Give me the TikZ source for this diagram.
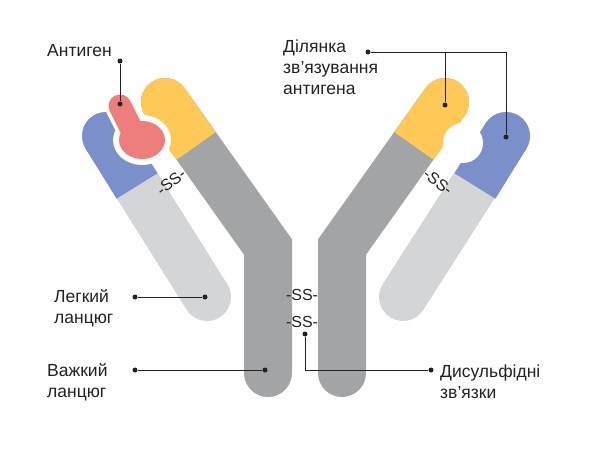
\documentclass[tikz,border=0pt]{standalone}
\usepackage{fontspec}
\setmainfont{Liberation Sans}
\definecolor{cblue}{HTML}{7B8FCB}
\definecolor{cyel}{HTML}{FFC857}
\definecolor{cgray}{HTML}{A3A4A5}
\definecolor{clight}{HTML}{D4D5D7}
\definecolor{cpink}{HTML}{EE7E7B}
\definecolor{ctext}{HTML}{222222}
\begin{document}
\begin{tikzpicture}[x=1pt,y=-1pt,
  chain/.style={line width=48pt,line cap=round},
  lbl/.style={font=\fontsize{17.5}{21}\selectfont,text=ctext,align=left,inner sep=0pt},
  ss/.style={font=\fontsize{16}{18}\selectfont,text=ctext,inner sep=0pt},
  lead/.style={draw=ctext,line width=0.8pt},
  dot/.style={circle,fill=ctext,inner sep=0pt,minimum size=5pt}]
\useasboundingbox (0,0) rectangle (600,451);
% left light chain
\draw[chain,clight] (106,136) -- (207,297);
\draw[line width=48pt,cblue] (106,136) -- (137,186);
\fill[cblue] (106,136) circle (24);
% left heavy chain
\draw[chain,cgray] (165,102) -- (268,247) -- (268,373);
\draw[line width=48pt,cyel] (165,102) -- (196,146);
\fill[cyel] (165,102) circle (24);
% right heavy chain
\draw[chain,cgray] (445,102) -- (342,247) -- (342,373);
\draw[line width=48pt,cyel] (445,102) -- (414,146);
\fill[cyel] (445,102) circle (24);
% right light chain
\draw[chain,clight] (506,136) -- (403,297);
\draw[line width=48pt,cblue] (506,136) -- (475,186);
\fill[cblue] (506,136) circle (24);
% right binding site cutout
\fill[white] (463,143) circle (20);
% antigen
\draw[white,line width=30pt,line cap=round] (120,106) -- (134,134);
\fill[white] (142,140) ellipse (29 and 25);
\draw[cpink,line width=23pt,line cap=round] (120,106) -- (134,134);
\fill[cpink] (142,140) ellipse (23 and 19);
% SS labels
\node[ss,rotate=38] (ssl) at (171,182) {-SS-};
\node[ss,rotate=-38] (ssr) at (438,182) {-SS-};
\node[ss] (ss1) at (302,295) {-SS-};
\node[ss] (ss2) at (302,322) {-SS-};
% annotations
\node[lbl,anchor=west] (ag) at (47,51) {Антиген};
\node[dot] (agd) at (120,61) {};
\node[dot] (agt) at (120,104) {};
\draw[lead] (agd) -- (agt);
\node[lbl,anchor=north west] (site) at (283,40) {Ділянка\\зв’язування\\антигена};
\node[dot] (sd) at (368,52) {};
\node[dot] (sy) at (445,105) {};
\node[dot] (sb) at (506,137) {};
\coordinate (sc1) at (445,52);
\coordinate (sc2) at (506,52);
\draw[lead] (sd) -- (sc2) -- (sb);
\draw[lead] (sc1) -- (sy);
\node[lbl,anchor=west] (light) at (54,308) {Легкий\\ланцюг};
\node[dot] (ld) at (135,297) {};
\node[dot] (lt) at (205,297) {};
\draw[lead] (ld) -- (lt);
\node[lbl,anchor=west] (heavy) at (47,382) {Важкий\\ланцюг};
\node[dot] (hd) at (135,370) {};
\node[dot] (ht) at (265,370) {};
\draw[lead] (hd) -- (ht);
\node[lbl,anchor=west] (ds) at (440,382) {Дисульфідні\\зв’язки};
\node[dot] (dd) at (431,370) {};
\node[dot] (dt) at (305,334) {};
\coordinate (dc) at (305,370);
\draw[lead] (dd) -- (dc) -- (dt);
\end{tikzpicture}
\end{document}
